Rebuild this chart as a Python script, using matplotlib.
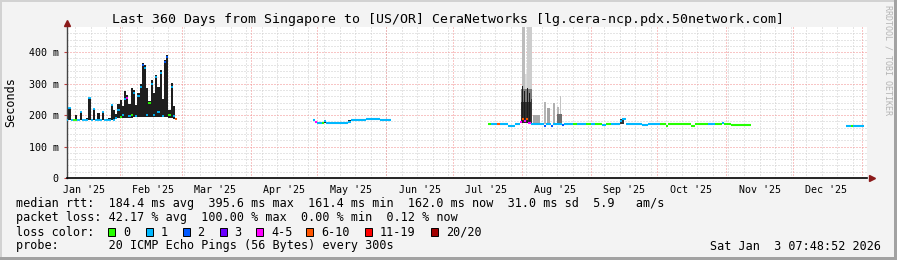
import numpy as np
import pandas as pd
import matplotlib
matplotlib.use('Agg')
import matplotlib.pyplot as plt
import matplotlib.dates as mdates
from matplotlib.patches import Rectangle

plt.rcParams['font.family'] = 'DejaVu Sans Mono'

# --- data ---------------------------------------------------------------
t_start = '2025-01-08 07:48:52'
t_end = '2026-01-03 07:48:52'

loss_colors = ['#26ff00', '#00b8ff', '#0059ff', '#6a00ff', '#ff00ff', '#ff5500', '#ff0000', '#a10000']
loss_labels = ['0', '1', '2', '3', '4-5', '6-10', '11-19', '20/20']

# Jan/Feb block, daily samples starting 2025-01-08 (ms)
s1_first_day = '2025-01-08'
s1_low = [183, 185, 185, 185, 185, 185, 185, 185, 185, 185, 185, 185, 185, 185, 185, 185, 185, 185, 185, 185,
          185, 185, 186, 190, 192, 192, 192, 192, 192, 192, 195, 195, 195, 195, 195, 195, 195, 195, 195, 195,
          195, 195, 195, 195, 195, 195, 192, 192, 188, 188]
s1_top = [183, 222, 185, 185, 201, 185, 211, 185, 185, 190, 254, 186, 219, 185, 208, 185, 211, 185, 186, 190,
          233, 215, 205, 235, 248, 230, 275, 264, 236, 286, 280, 232, 270, 300, 365, 360, 286, 245, 312, 270,
          328, 290, 344, 250, 376, 390, 215, 301, 230, 190]
s1_rtt = [183, 222, 185, 185, 185, 185, 211, 185, 185, 185, 254, 185, 219, 185, 185, 185, 211, 185, 185, 185,
          233, 185, 190, 215, 195, 200, 250, 255, 196, 200, 270, 196, 260, 290, 360, 350, 200, 240, 300, 200,
          320, 210, 335, 198, 370, 385, 200, 290, 196, 188]
s1_loss = [1, 1, 1, 0, 0, 1, 1, 1, 1, 1, 1, 1, 1, 1, 1, 1, 1, 1, 1, 1,
           1, 1, 1, 1, 0, 1, 1, 4, 1, 0, 1, 1, 1, 1, 2, 1, 1, 0, 1, 1,
           1, 1, 1, 1, 2, 2, 0, 1, 1, 5]

# later blocks as runs of constant median
run_start = ['2025-04-29', '2025-04-30', '2025-05-01', '2025-05-03', '2025-05-04', '2025-05-05', '2025-05-15',
             '2025-05-16', '2025-05-23', '2025-05-29',
             '2025-07-17', '2025-07-18', '2025-07-21', '2025-07-22', '2025-07-26', '2025-07-29', '2025-07-31',
             '2025-08-01', '2025-08-02', '2025-08-03', '2025-08-04', '2025-08-05', '2025-08-11', '2025-08-12',
             '2025-08-14', '2025-08-15', '2025-08-19', '2025-08-20', '2025-08-24', '2025-08-26', '2025-08-30',
             '2025-09-01', '2025-09-03', '2025-09-06', '2025-09-08', '2025-09-10', '2025-09-14', '2025-09-15',
             '2025-09-17', '2025-09-24', '2025-09-27', '2025-10-02', '2025-10-05', '2025-10-06', '2025-10-16',
             '2025-10-18', '2025-10-24', '2025-10-27', '2025-10-30', '2025-10-31', '2025-11-03',
             '2025-12-25', '2025-12-27', '2025-12-28']
run_end = ['2025-04-30', '2025-05-01', '2025-05-03', '2025-05-04', '2025-05-05', '2025-05-15', '2025-05-16',
           '2025-05-23', '2025-05-29', '2025-06-03',
           '2025-07-18', '2025-07-21', '2025-07-22', '2025-07-26', '2025-07-29', '2025-07-31', '2025-08-01',
           '2025-08-02', '2025-08-03', '2025-08-04', '2025-08-05', '2025-08-11', '2025-08-12', '2025-08-14',
           '2025-08-15', '2025-08-19', '2025-08-20', '2025-08-24', '2025-08-26', '2025-08-30', '2025-09-01',
           '2025-09-03', '2025-09-06', '2025-09-08', '2025-09-10', '2025-09-14', '2025-09-15', '2025-09-17',
           '2025-09-24', '2025-09-27', '2025-10-02', '2025-10-05', '2025-10-06', '2025-10-16', '2025-10-18',
           '2025-10-24', '2025-10-27', '2025-10-30', '2025-10-31', '2025-11-03', '2025-11-12',
           '2025-12-27', '2025-12-28', '2026-01-02']
run_rtt = [184, 177, 175, 175, 181, 175, 179, 183, 186, 184,
           172, 172, 172, 172, 166, 172, 178, 186, 180, 186, 176, 172, 165, 172, 165, 172, 167, 172, 172, 172,
           172, 172, 172, 170, 172, 172, 180, 187, 172, 169, 172, 172, 165, 172, 165, 172, 172, 172, 175, 172,
           167,
           164, 164, 164]
run_loss = [1, 4, 1, 0, 1, 1, 1, 1, 1, 1,
            0, 1, 5, 1, 1, 1, 4, 5, 4, 5, 4, 1, 2, 1, 2, 1, 2, 1, 0, 1,
            0, 1, 0, 1, 0, 1, 1, 1, 1, 1, 1, 0, 0, 0, 0, 0, 1, 0, 1, 0,
            0,
            1, 0, 1]

# smoke (spread of the pings) outside the Jan/Feb block, drawn in this order
smoke_start = ['2025-05-04 00:00', '2025-05-15 00:00', '2025-07-17 00:00',
               '2025-08-01 00:00', '2025-08-02 06:00', '2025-08-03 12:00',
               '2025-07-31 12:00', '2025-07-31 12:00', '2025-08-01 00:00', '2025-08-02 00:00',
               '2025-08-03 06:00', '2025-08-04 06:00', '2025-08-05 00:00',
               '2025-08-06 00:00', '2025-08-11 00:00', '2025-08-12 12:00', '2025-08-15 00:00', '2025-08-17 00:00',
               '2025-08-18 00:00', '2025-08-17 00:00', '2025-09-14 00:00']
smoke_end = ['2025-05-05 00:00', '2025-05-16 00:00', '2025-07-18 00:00',
             '2025-08-02 06:00', '2025-08-03 12:00', '2025-08-05 12:00',
             '2025-08-05 12:00', '2025-08-05 12:00', '2025-08-01 12:00', '2025-08-02 12:00',
             '2025-08-03 18:00', '2025-08-04 18:00', '2025-08-05 12:00',
             '2025-08-09 00:00', '2025-08-11 18:00', '2025-08-13 12:00', '2025-08-15 18:00', '2025-08-17 18:00',
             '2025-08-18 18:00', '2025-08-19 00:00', '2025-09-16 00:00']
smoke_lo = [175, 175, 168,
            280, 280, 280,
            240, 175, 175, 175,
            175, 175, 175,
            172, 172, 172, 172, 172,
            172, 172, 172]
smoke_hi = [184, 184, 175,
            480, 330, 480,
            282, 242, 292, 276,
            287, 270, 250,
            200, 243, 223, 239, 225,
            260, 205, 188]
smoke_gray = ['#222222', '#222222', '#333333',
              '#bcbcbc', '#dadada', '#cdcdcd',
              '#7c7c7c', '#2e2e2e', '#1c1c1c', '#1c1c1c',
              '#1c1c1c', '#1c1c1c', '#3a3a3a',
              '#a8a8a8', '#b4b4b4', '#a4a4a4', '#b0b0b0', '#b8b8b8',
              '#c2c2c2', '#6e6e6e', '#333333']

ytick_vals = [0, 100, 200, 300, 400]
ytick_text = ['0', '100 m', '200 m', '300 m', '400 m']

stats_rtt = 'median rtt:  184.4 ms avg  395.6 ms max  161.4 ms min  162.0 ms now  31.0 ms sd  5.9   am/s'
stats_loss = 'packet loss: 42.17 % avg  100.00 % max  0.00 % min  0.12 % now'
probe_text = 'probe:       20 ICMP Echo Pings (56 Bytes) every 300s'
stamp_text = 'Sat Jan  3 07:48:52 2026'
title_text = 'Last 360 Days from Singapore to [US/OR] CeraNetworks [lg.cera-ncp.pdx.50network.com]'


def dnum(seq):
    return mdates.date2num(pd.to_datetime(seq, format='mixed').values)


# --- figure ---------------------------------------------------------------
W, H = 897, 260
fig = plt.figure(figsize=(W / 100, H / 100), dpi=100, facecolor='#f3f3f3')
ax = fig.add_axes([67 / W, 82 / H, 800 / W, 151 / H])
ax.set_facecolor('white')

x0 = dnum([t_start])[0]
x1 = dnum([t_end])[0]
ax.set_xlim(x0, x1)
ax.set_ylim(0, 480)

# grid
for v in range(20, 480, 20):
    if v % 100:
        ax.axhline(v, color='#cccccc', lw=0.72, ls=(0, (1, 2)), zorder=0)
for v in range(100, 480, 100):
    ax.axhline(v, color='#f28c8c', lw=0.72, ls=(0, (1, 2)), zorder=0.5)
for d in dnum(pd.date_range('2025-01-12', '2026-01-03', freq='7D')):
    ax.axvline(d, color='#cccccc', lw=0.72, ls=(0, (1, 2)), zorder=0)
for d in dnum(pd.date_range('2025-02-01', '2026-01-01', freq='MS')):
    ax.axvline(d, color='#f28c8c', lw=0.72, ls=(0, (1, 2)), zorder=0.5)

# smoke
xs = dnum([s1_first_day])[0] + np.arange(len(s1_rtt) + 1)
ax.fill_between(xs, s1_low + s1_low[-1:], s1_top + s1_top[-1:], step='post', color='#1e1e1e', lw=0, zorder=2)
for s, e, lo, hi, g in zip(dnum(smoke_start), dnum(smoke_end), smoke_lo, smoke_hi, smoke_gray):
    ax.fill_between([s, e], [lo, lo], [hi, hi], color=g, lw=0, zorder=2)

# median rtt coloured by loss
ax.hlines(s1_rtt, xs[:-1], xs[1:], colors=[loss_colors[i] for i in s1_loss], lw=1.3, zorder=3)
ax.hlines(run_rtt, dnum(run_start), dnum(run_end), colors=[loss_colors[i] for i in run_loss], lw=1.5, zorder=3)

# axes
for sp in ['top', 'right']:
    ax.spines[sp].set_visible(False)
ax.spines['bottom'].set_color('black')
ax.spines['bottom'].set_linewidth(1.2)
ax.spines['left'].set_color('#444444')
ax.spines['left'].set_linewidth(1.0)
ax.plot([1.006], [0], marker='>', ms=5, color='#8b1a1a', transform=ax.transAxes, clip_on=False, zorder=5)
ax.plot([0], [1.025], marker='^', ms=5, color='#8b1a1a', transform=ax.transAxes, clip_on=False, zorder=5)

ax.set_yticks(ytick_vals)
ax.set_yticklabels(ytick_text)
months = pd.date_range('2025-01-01', '2025-12-01', freq='MS') + pd.Timedelta(days=15)
ax.set_xticks(dnum(months))
ax.set_xticklabels([m.strftime("%b '%y") for m in months])
ax.tick_params(axis='x', length=0, pad=5, labelsize=7.2)
ax.tick_params(axis='y', length=2, color='#c04040', pad=4, labelsize=7.2)

# texts
fig.text(448 / W, 1 - 19 / H, title_text, ha='center', va='center', fontsize=9.5)
fig.text(11 / W, 1 - 102 / H, 'Seconds', rotation=90, ha='center', va='center', fontsize=8.5)
fig.text(888 / W, 1 - 60 / H, 'RRDTOOL / TOBI OETIKER', rotation=270, ha='center', va='center',
         fontsize=6, color='#b4b4b4')
fig.text(16 / W, 1 - 204 / H, stats_rtt, va='center', fontsize=8.5)
fig.text(16 / W, 1 - 218 / H, stats_loss, va='center', fontsize=8.5)
fig.text(16 / W, 1 - 232 / H, 'loss color:', va='center', fontsize=8.5)
fig.text(16 / W, 1 - 246 / H, probe_text, va='center', fontsize=8.5)
fig.text(881 / W, 1 - 246 / H, stamp_text, va='center', ha='right', fontsize=8.5)

box_x = [108, 145.5, 182.5, 219.5, 256, 306, 365, 431]
for bx, c, lab in zip(box_x, loss_colors, loss_labels):
    fig.add_artist(Rectangle((bx / W, 1 - 236 / H), 7 / W, 8 / H, transform=fig.transFigure,
                             facecolor=c, edgecolor='black', lw=0.7))
    fig.text((bx + 15) / W, 1 - 232 / H, lab, va='center', fontsize=8.5)

# frame
fig.add_artist(Rectangle((0, 1 - 2 / H), 1, 2 / H, transform=fig.transFigure, color='#d2d2d2', lw=0))
fig.add_artist(Rectangle((0, 0), 2 / W, 1, transform=fig.transFigure, color='#d2d2d2', lw=0))
fig.add_artist(Rectangle((1 - 3 / W, 0), 3 / W, 1, transform=fig.transFigure, color='#a2a2a2', lw=0))
fig.add_artist(Rectangle((0, 0), 1, 3 / H, transform=fig.transFigure, color='#a2a2a2', lw=0))

fig.savefig('out.png', dpi=100, facecolor=fig.get_facecolor())
